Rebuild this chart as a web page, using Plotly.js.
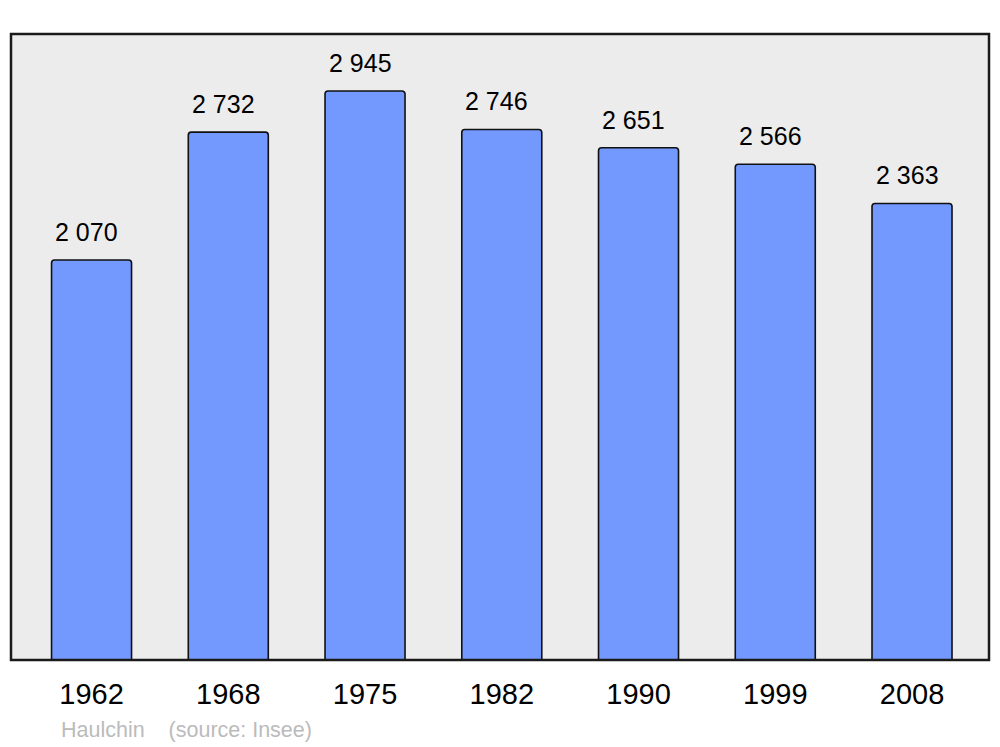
<!DOCTYPE html>
<html>
<head>
<meta charset="utf-8">
<script src="https://cdn.plot.ly/plotly-3.0.1.min.js"></script>
<style>html,body{margin:0;padding:0;background:#fff;}#chart{width:1000px;height:747px;}</style>
</head>
<body>
<div id="chart"></div>
<script>
var years = ["1962", "1968", "1975", "1982", "1990", "1999", "2008"];
var population = [2070, 2732, 2945, 2746, 2651, 2566, 2363];
var valueLabels = ["2 070", "2 732", "2 945", "2 746", "2 651", "2 566", "2 363"];
var sourceText = "Haulchin    (source: Insee)";

var FONT = "Liberation Sans, Arial, sans-serif";

var trace = {
  type: "bar",
  x: years,
  y: population,
  width: 0.585,
  marker: {color: "#7399ff", line: {color: "#111", width: 1.6}, cornerradius: 3},
  hoverinfo: "x+y"
};

var annotations = years.map(function (yr, i) {
  return {
    x: i, y: population[i], xref: "x", yref: "y",
    text: valueLabels[i], showarrow: false,
    xanchor: "center", yanchor: "bottom", xshift: -5, yshift: 12,
    font: {family: FONT, size: 25, color: "#000"}
  };
});
annotations.push({
  x: 0.049, y: -0.112, xref: "paper", yref: "paper",
  text: sourceText.replace(/ /g, "&nbsp;"), showarrow: false,
  xanchor: "left", yanchor: "middle",
  font: {family: FONT, size: 21.5, color: "#bbbbbb"}
});

var layout = {
  width: 1000, height: 747,
  margin: {l: 11, r: 11, t: 34, b: 87},
  paper_bgcolor: "#ffffff",
  plot_bgcolor: "#ececec",
  showlegend: false,
  font: {family: FONT, color: "#000"},
  xaxis: {
    type: "category", range: [-0.589, 6.563],
    showgrid: false, zeroline: false, showline: false,
    ticks: "", ticklabelstandoff: 14,
    tickfont: {family: FONT, size: 29, color: "#000"},
    fixedrange: true
  },
  yaxis: {
    range: [0, 3240], showgrid: false, zeroline: false, showline: false,
    showticklabels: false, ticks: "", fixedrange: true
  },
  shapes: [{
    type: "rect", xref: "paper", yref: "paper", x0: 0, x1: 1, y0: 0, y1: 1,
    line: {color: "#1a1a1a", width: 2.5}, fillcolor: "rgba(0,0,0,0)", layer: "above"
  }],
  annotations: annotations
};

Plotly.newPlot("chart", [trace], layout, {displayModeBar: false, staticPlot: true});
</script>
</body>
</html>
